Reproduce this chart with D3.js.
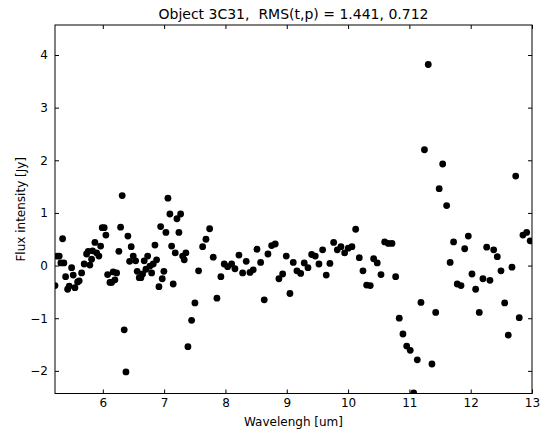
<!DOCTYPE html>
<html>
<head>
<meta charset="utf-8">
<script src="https://cdn.jsdelivr.net/npm/d3@7"></script>
<style>
  body { margin: 0; background: #fff; }
  text { font-family: "DejaVu Sans", sans-serif; }
</style>
</head>
<body>
<div id="chart"></div>
<script>
// wavelength [um] and flux [Jy]
const wavelength = [
  5.22, 5.256, 5.289, 5.316, 5.344, 5.365, 5.393, 5.426, 5.452, 5.491,
  5.517, 5.545, 5.589, 5.615, 5.654, 5.696, 5.735, 5.762, 5.789, 5.817,
  5.833, 5.871, 5.899, 5.936, 5.964, 5.99, 6.023, 6.05, 6.078, 6.116,
  6.143, 6.169, 6.197, 6.225, 6.262, 6.29, 6.316, 6.349, 6.377, 6.409,
  6.437, 6.463, 6.496, 6.535, 6.561, 6.594, 6.621, 6.649, 6.675, 6.703,
  6.731, 6.768, 6.796, 6.822, 6.85, 6.877, 6.915, 6.943, 6.969, 6.996,
  7.029, 7.062, 7.094, 7.122, 7.148, 7.181, 7.209, 7.241, 7.269, 7.302,
  7.328, 7.355, 7.388, 7.448, 7.502, 7.562, 7.628, 7.682, 7.742, 7.801,
  7.861, 7.926, 7.98, 8.036, 8.101, 8.155, 8.22, 8.28, 8.339, 8.4,
  8.453, 8.514, 8.574, 8.633, 8.693, 8.753, 8.812, 8.872, 8.933, 8.992,
  9.052, 9.106, 9.166, 9.227, 9.285, 9.346, 9.406, 9.465, 9.525, 9.585,
  9.644, 9.704, 9.765, 9.824, 9.884, 9.944, 10.003, 10.063, 10.124, 10.183,
  10.243, 10.303, 10.362, 10.417, 10.476, 10.537, 10.597, 10.656, 10.716, 10.776,
  10.835, 10.895, 10.956, 11.014, 11.07, 11.129, 11.189, 11.246, 11.308, 11.368,
  11.429, 11.486, 11.543, 11.608, 11.665, 11.721, 11.781, 11.842, 11.902, 11.961,
  12.021, 12.081, 12.14, 12.2, 12.261, 12.314, 12.375, 12.434, 12.494, 12.554,
  12.613, 12.673, 12.734, 12.792, 12.852, 12.913, 12.97
];
const flux = [
  -0.38, 0.18, 0.18, 0.05, 0.51, 0.05, -0.21, -0.45, -0.39, -0.04,
  -0.18, -0.42, -0.31, -0.29, -0.14, 0.03, 0.22, 0.27, 0.01, 0.12,
  0.28, 0.44, 0.24, 0.18, 0.37, 0.72, 0.72, 0.58, -0.17, -0.32,
  -0.32, -0.12, -0.27, -0.14, 0.27, 0.73, 1.33, -1.22, -2.02, 0.56,
  0.08, 0.36, 0.18, 0.09, -0.11, -0.23, -0.23, -0.16, 0.09, -0.07,
  0.18, -0.01, -0.14, 0.03, 0.39, 0.11, -0.40, 0.74, -0.25, -0.11,
  0.63, 1.28, 0.98, 0.37, -0.35, 0.24, 0.89, 0.63, 0.98, 0.18,
  0.11, 0.24, -1.54, -1.04, -0.71, -0.10, 0.36, 0.50, 0.70, 0.16,
  -0.62, -0.21, 0.03, -0.02, 0.03, -0.06, 0.20, -0.14, 0.08, -0.13,
  -0.08, 0.31, 0.06, -0.65, 0.22, 0.38, 0.41, -0.25, -0.16, 0.18,
  -0.53, 0.06, -0.10, -0.15, 0.05, -0.04, 0.21, 0.18, 0.03, 0.30,
  -0.18, 0.04, 0.44, 0.30, 0.36, 0.24, 0.33, 0.36, 0.69, 0.15,
  -0.10, -0.37, -0.38, 0.13, 0.05, -0.17, 0.45, 0.42, 0.42, -0.21,
  -1.00, -1.30, -1.53, -1.61, -2.42, -1.79, -0.70, 2.20, 3.82, -1.87,
  -0.89, 1.46, 1.93, 1.14, 0.06, 0.45, -0.35, -0.38, 0.32, 0.56,
  -0.16, -0.45, -0.89, -0.25, 0.35, -0.28, 0.30, 0.17, -0.10, -0.71,
  -1.32, -0.03, 1.70, -0.99, 0.58, 0.63, 0.47
];
const xTicks = [6, 7, 8, 9, 10, 11, 12, 13];
const yTicks = [-2, -1, 0, 1, 2, 3, 4];

const title = 'Object 3C31,  RMS(t,p) = 1.441, 0.712';
const xLabel = 'Wavelengh [um]';
const yLabel = 'Flux intensity [Jy]';

const width = 547, height = 432;
const margin = { top: 25, right: 15, bottom: 38.5, left: 55 };
const innerW = width - margin.left - margin.right;
const innerH = height - margin.top - margin.bottom;

const svg = d3.select('#chart').append('svg')
  .attr('width', width)
  .attr('height', height);

const g = svg.append('g')
  .attr('transform', 'translate(' + margin.left + ',' + margin.top + ')');

const x = d3.scaleLinear().domain([5.22, 13]).range([0, innerW]);
const y = d3.scaleLinear().domain([-2.43, 4.57]).range([innerH, 0]);

svg.append('defs').append('clipPath').attr('id', 'clip')
  .append('rect').attr('width', innerW).attr('height', innerH);

// points
g.append('g').attr('clip-path', 'url(#clip)')
  .selectAll('circle')
  .data(wavelength.map((w, i) => [w, flux[i]]))
  .enter().append('circle')
  .attr('cx', d => x(d[0]))
  .attr('cy', d => y(d[1]))
  .attr('r', 3.4)
  .attr('fill', '#000');

// axes, ticks pointing inward on all four sides
const fmt = d3.format('d');
const axBottom = g.append('g').attr('transform', 'translate(0,' + innerH + ')')
  .call(d3.axisBottom(x).tickValues(xTicks).tickFormat(fmt).tickSizeInner(-4).tickSizeOuter(0).tickPadding(5));
const axTop = g.append('g')
  .call(d3.axisTop(x).tickValues(xTicks).tickFormat('').tickSizeInner(-4).tickSizeOuter(0));
const axLeft = g.append('g')
  .call(d3.axisLeft(y).tickValues(yTicks).tickFormat(fmt).tickSizeInner(-4).tickSizeOuter(0).tickPadding(7));
const axRight = g.append('g').attr('transform', 'translate(' + innerW + ',0)')
  .call(d3.axisRight(y).tickValues(yTicks).tickFormat('').tickSizeInner(-4).tickSizeOuter(0));

[axBottom, axTop, axLeft, axRight].forEach(a => {
  a.select('.domain').remove();
  a.selectAll('line').attr('stroke', '#000');
  a.selectAll('text').attr('fill', '#000').style('font-size', '12px')
    .style('font-family', '"DejaVu Sans", sans-serif');
});

g.append('rect')
  .attr('width', innerW).attr('height', innerH)
  .attr('fill', 'none').attr('stroke', '#000').attr('stroke-width', 1);

svg.append('text')
  .attr('x', margin.left + innerW / 2).attr('y', 19)
  .attr('text-anchor', 'middle')
  .style('font-size', '14px')
  .style('white-space', 'pre')
  .text(title);

svg.append('text')
  .attr('x', margin.left + innerW / 2).attr('y', 426)
  .attr('text-anchor', 'middle')
  .style('font-size', '12px')
  .text(xLabel);

svg.append('text')
  .attr('transform', 'translate(25,' + (margin.top + innerH / 2) + ')rotate(-90)')
  .attr('text-anchor', 'middle')
  .style('font-size', '12px')
  .text(yLabel);
</script>
</body>
</html>
